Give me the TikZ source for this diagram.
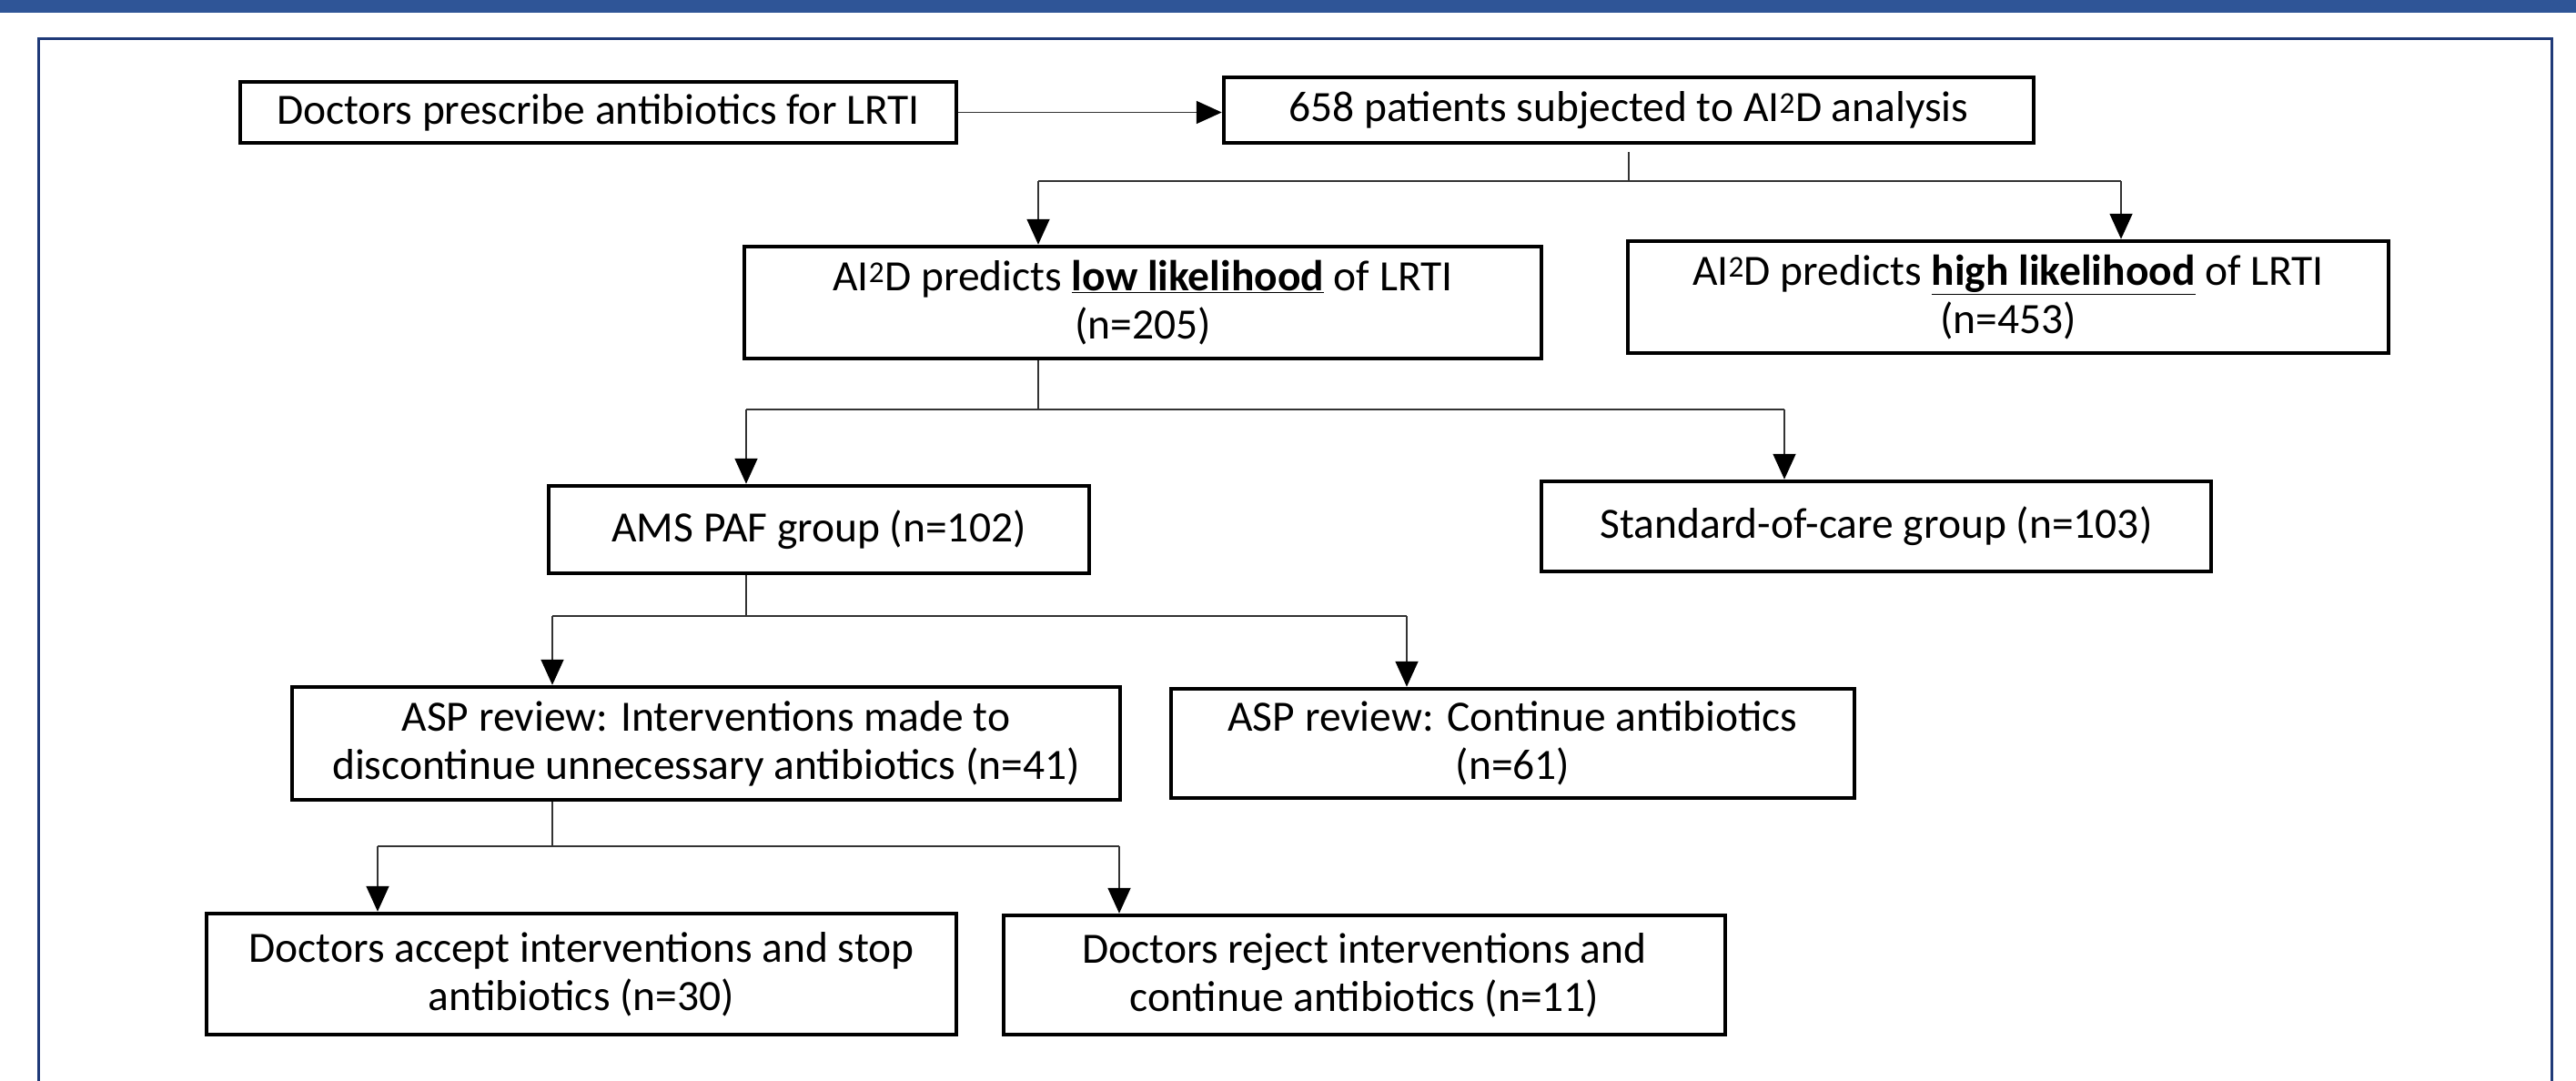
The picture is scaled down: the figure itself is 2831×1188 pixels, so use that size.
\documentclass[tikz,border=0pt]{standalone}
\usepackage{fontspec}
\setmainfont{Carlito}
\usetikzlibrary{arrows.meta}
\definecolor{barblue}{HTML}{2F5597}
\definecolor{framenavy}{HTML}{1F3A78}
\begin{document}
\begin{tikzpicture}[x=1pt,y=-1pt,
  box/.style={draw=black, line width=4.5pt, align=center, inner sep=0pt, rectangle,
    font=\fontsize{47.5}{53}\selectfont},
  conn/.style={line width=1.8pt, draw=black!80},
  arr/.style={conn, -{Triangle[width=25pt,length=28pt,fill=black,color=black]}}]
\useasboundingbox (0,0) rectangle (2831,1188);
\fill[barblue] (0,0) rectangle (2831,14);
\draw[framenavy, line width=3pt] (42,1190) -- (42,43) -- (2804,43) -- (2804,1190);

\node[box, minimum width=787pt, minimum height=67pt] (b1) at (657.5,123.5) {Doctors prescribe antibiotics for LRTI};
\node[box, minimum width=890pt, minimum height=72pt] (b2) at (1790,121) {658 patients subjected to AI\textsuperscript{2}D analysis};
\node[box, minimum width=876pt, minimum height=123pt] (b3) at (1256,332.5) {AI\textsuperscript{2}D predicts \underline{\textbf{low likelihood}} of LRTI\\(n=205)};
\node[box, minimum width=836pt, minimum height=123pt] (b4) at (2207,326.5) {AI\textsuperscript{2}D predicts \underline{\textbf{high likelihood}} of LRTI\\(n=453)};
\node[box, minimum width=594pt, minimum height=96pt] (b5) at (900,582) {AMS PAF group (n=102)};
\node[box, minimum width=736pt, minimum height=99pt] (b6) at (2062,578.5) {Standard-of-care group (n=103)};
\node[box, minimum width=910pt, minimum height=124pt] (b7) at (776,817) {ASP review: Interventions made to\\discontinue unnecessary antibiotics (n=41)};
\node[box, minimum width=751pt, minimum height=120pt] (b8) at (1662.5,817) {ASP review: Continue antibiotics\\(n=61)};
\node[box, minimum width=824pt, minimum height=133pt] (b9) at (639,1070.5) {Doctors accept interventions and stop\\antibiotics (n=30)};
\node[box, minimum width=793pt, minimum height=131pt] (b10) at (1499.5,1071.5) {Doctors reject interventions and\\continue antibiotics (n=11)};

\coordinate (l1) at (1141,199); \coordinate (r1) at (2331,199);
\coordinate (l2) at (820,450);  \coordinate (r2) at (1961,450);
\coordinate (l3) at (607,677);  \coordinate (r3) at (1546,677);
\coordinate (l4) at (415,930);  \coordinate (r4) at (1230,930);

\draw[arr] (b1.east) -- (b2.west |- b1.east);

\draw[conn] ([yshift=-8pt]b2.south) -- (b2.south |- l1);
\draw[conn] (l1) -- (r1);
\draw[arr] (l1) -- (l1 |- b3.north);
\draw[arr] (r1) -- (r1 |- b4.north);

\draw[conn] (l1 |- b3.south) -- (l1 |- l2);
\draw[conn] (l2) -- (r2);
\draw[arr] (l2) -- (l2 |- b5.north);
\draw[arr] (r2) -- (r2 |- b6.north);

\draw[conn] (l2 |- b5.south) -- (l2 |- l3);
\draw[conn] (l3) -- (r3);
\draw[arr] (l3) -- (l3 |- b7.north);
\draw[arr] (r3) -- (r3 |- b8.north);

\draw[conn] (l3 |- b7.south) -- (l3 |- l4);
\draw[conn] (l4) -- (r4);
\draw[arr] (l4) -- (l4 |- b9.north);
\draw[arr] (r4) -- (r4 |- b10.north);
\end{tikzpicture}
\end{document}
